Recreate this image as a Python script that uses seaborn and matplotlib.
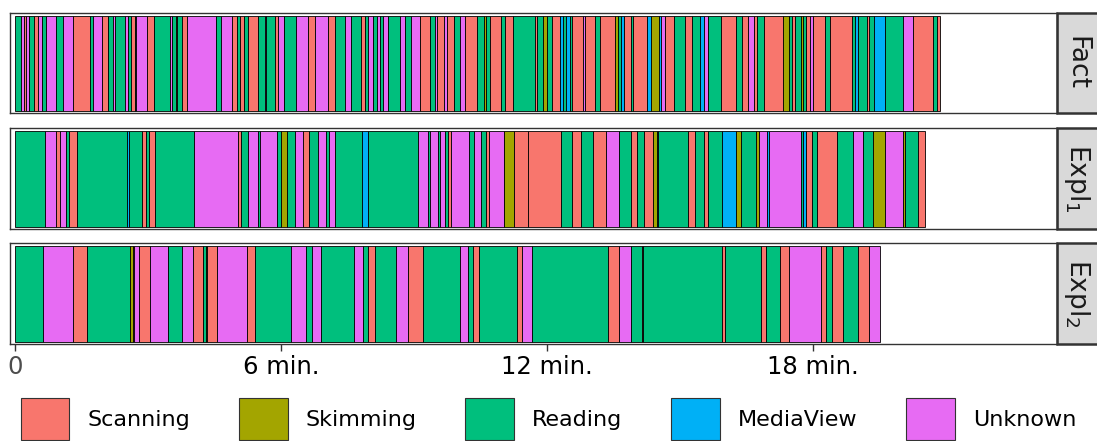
import numpy as np
import pandas as pd
import matplotlib
matplotlib.use("Agg")
import matplotlib.pyplot as plt
import seaborn as sns
from matplotlib.patches import Patch, Rectangle

# reading activities and their colours (ggplot default hues)
activities = ['Scanning', 'Skimming', 'Reading', 'MediaView', 'Unknown']
act_colors = ['#F8766D', '#A3A500', '#00BF7D', '#00B0F6', '#E76BF3']
act_codes = {'S': 'Scanning', 'K': 'Skimming', 'R': 'Reading', 'M': 'MediaView', 'U': 'Unknown'}

# (segment start in seconds, activity code); session end given separately
fact_segments = [
    (0, 'R'), (8, 'U'), (12, 'S'), (14, 'U'), (19, 'R'), (25, 'S'), (30, 'U'), (36, 'R'),
    (42, 'U'), (55, 'R'), (64, 'U'), (78, 'S'), (101, 'R'), (105, 'U'), (117, 'S'), (126, 'R'),
    (132, 'U'), (135, 'R'), (148, 'U'), (153, 'R'), (156, 'S'), (162, 'R'), (163, 'U'), (178, 'S'),
    (187, 'R'), (209, 'U'), (212, 'R'), (217, 'S'), (219, 'R'), (226, 'S'), (233, 'U'), (271, 'R'),
    (279, 'U'), (293, 'S'), (300, 'R'), (304, 'S'), (310, 'R'), (315, 'S'), (329, 'R'), (338, 'U'),
    (339, 'R'), (351, 'S'), (356, 'U'), (364, 'R'), (380, 'U'), (396, 'S'), (406, 'U'), (423, 'S'),
    (433, 'R'), (446, 'U'), (454, 'R'), (468, 'S'), (473, 'R'), (478, 'U'), (484, 'R'), (489, 'U'),
    (493, 'R'), (498, 'U'), (505, 'R'), (521, 'U'), (527, 'R'), (535, 'U'), (548, 'S'), (561, 'R'),
    (568, 'U'), (571, 'S'), (580, 'U'), (584, 'S'), (594, 'R'), (602, 'U'), (609, 'S'), (625, 'R'),
    (634, 'K'), (637, 'R'), (643, 'S'), (658, 'R'), (663, 'S'), (674, 'R'), (703, 'S'), (706, 'R'),
    (714, 'K'), (720, 'R'), (726, 'S'), (737, 'M'), (741, 'R'), (746, 'M'), (751, 'R'), (753, 'S'),
    (769, 'U'), (771, 'S'), (784, 'R'), (792, 'S'), (812, 'K'), (816, 'R'), (820, 'M'), (824, 'S'),
    (833, 'R'), (836, 'S'), (855, 'M'), (861, 'K'), (871, 'M'), (874, 'U'), (879, 'S'), (891, 'R'),
    (906, 'S'), (916, 'R'), (927, 'M'), (932, 'U'), (937, 'R'), (955, 'S'), (976, 'R'), (983, 'S'),
    (992, 'U'), (1000, 'S'), (1004, 'R'), (1014, 'S'), (1039, 'K'), (1047, 'R'), (1051, 'S'),
    (1056, 'R'), (1063, 'K'), (1066, 'R'), (1070, 'S'), (1076, 'U'), (1080, 'S'), (1096, 'R'),
    (1103, 'S'), (1133, 'R'), (1136, 'M'), (1140, 'R'), (1153, 'S'), (1156, 'R'), (1162, 'M'),
    (1177, 'R'), (1201, 'U'), (1215, 'S'), (1242, 'R'), (1247, 'S'),
]
fact_end = 1251

expl1_segments = [
    (0, 'R'), (40, 'U'), (55, 'S'), (60, 'U'), (68, 'R'), (72, 'S'), (83, 'R'), (151, 'M'),
    (154, 'R'), (171, 'S'), (177, 'R'), (181, 'S'), (189, 'R'), (242, 'U'), (301, 'S'), (305, 'R'),
    (315, 'U'), (329, 'R'), (331, 'U'), (354, 'R'), (360, 'K'), (368, 'R'), (378, 'U'), (390, 'S'),
    (398, 'R'), (409, 'U'), (421, 'R'), (424, 'U'), (433, 'R'), (469, 'M'), (477, 'R'), (545, 'U'),
    (558, 'R'), (561, 'U'), (572, 'R'), (575, 'U'), (581, 'R'), (586, 'S'), (590, 'U'), (614, 'R'),
    (621, 'U'), (630, 'R'), (637, 'S'), (641, 'U'), (662, 'K'), (675, 'S'), (694, 'S'), (738, 'R'),
    (754, 'S'), (766, 'R'), (782, 'S'), (799, 'U'), (817, 'R'), (834, 'S'), (841, 'R'), (851, 'S'),
    (863, 'K'), (868, 'M'), (870, 'R'), (910, 'S'), (920, 'R'), (932, 'S'), (938, 'R'), (956, 'M'),
    (975, 'K'), (982, 'R'), (1003, 'K'), (1007, 'U'), (1018, 'M'), (1020, 'U'), (1063, 'R'),
    (1066, 'M'), (1070, 'S'), (1078, 'R'), (1085, 'S'), (1112, 'R'), (1134, 'U'), (1147, 'R'),
    (1161, 'K'), (1177, 'U'), (1201, 'K'), (1204, 'R'), (1222, 'S'),
]
expl1_end = 1231

expl2_segments = [
    (0, 'R'), (37, 'U'), (78, 'S'), (97, 'R'), (155, 'K'), (159, 'S'), (161, 'U'), (168, 'S'),
    (182, 'U'), (206, 'R'), (226, 'U'), (240, 'S'), (254, 'R'), (258, 'K'), (260, 'S'), (273, 'U'),
    (314, 'S'), (324, 'R'), (373, 'U'), (393, 'R'), (402, 'U'), (414, 'R'), (459, 'U'), (470, 'R'),
    (478, 'S'), (487, 'R'), (515, 'U'), (531, 'S'), (552, 'R'), (602, 'U'), (613, 'R'), (620, 'S'),
    (627, 'R'), (679, 'S'), (686, 'U'), (700, 'R'), (802, 'S'), (817, 'U'), (834, 'R'), (848, 'S'),
    (850, 'R'), (956, 'S'), (960, 'R'), (1009, 'S'), (1016, 'R'), (1035, 'S'), (1047, 'U'),
    (1090, 'S'), (1097, 'R'), (1105, 'S'), (1121, 'R'), (1141, 'S'), (1156, 'U'),
]
expl2_end = 1171

panel_labels = ['Fact', r'Expl$_1$', r'Expl$_2$']
tick_secs = [0, 360, 720, 1080]
tick_labels = ['0', '6 min.', '12 min.', '18 min.']


def to_frame(segments, end):
    df = pd.DataFrame(segments, columns=['start', 'code'])
    df['stop'] = list(df.start[1:]) + [end]
    df['width'] = df.stop - df.start
    df['activity'] = df.code.map(act_codes)
    return df


sns.set_theme(style="white")
plt.rcParams['font.family'] = ['DejaVu Sans']
palette = dict(zip(activities, act_colors))

fig = plt.figure(figsize=(10.97, 4.41), dpi=100)

# panel boxes: [left, bottom, width, height] in figure fractions
boxes = [
    [0.0091, 0.7438, 0.9544, 0.2268],
    [0.0091, 0.4807, 0.9544, 0.2290],
    [0.0091, 0.2200, 0.9544, 0.2290],
]
data = [(fact_segments, fact_end), (expl1_segments, expl1_end), (expl2_segments, expl2_end)]

for i, ((segs, end), box) in enumerate(zip(data, boxes)):
    ax = fig.add_axes(box)
    df = to_frame(segs, end)
    ax.barh(0, df.width, left=df.start, height=1,
            color=[palette[a] for a in df.activity],
            edgecolor='black', linewidth=0.6)
    ax.set_xlim(-7.3, 1410)
    ax.set_ylim(-0.52, 0.53)
    ax.set_yticks([])
    for s in ax.spines.values():
        s.set_color('#333333')
        s.set_linewidth(1.0)
    # facet strip on the right
    ax.add_patch(Rectangle((1.0, 0), 0.045, 1, transform=ax.transAxes, clip_on=False,
                           facecolor='#D9D9D9', edgecolor='#333333', linewidth=1.8))
    ax.text(1.019, 0.5, panel_labels[i], rotation=270, va='center', ha='center',
            fontsize=19, color='#1A1A1A', transform=ax.transAxes)
    if i < 2:
        ax.set_xticks([])
    else:
        ax.set_xticks(tick_secs)
        ax.set_xticklabels(tick_labels, fontsize=17.5, color='black')
        ax.tick_params(axis='x', bottom=True, length=5, width=1, color='#333333', pad=3)
        ax.get_xticklabels()[0].set_color('#4D4D4D')

handles = [Patch(facecolor=c, edgecolor='#333333', linewidth=0.8) for c in act_colors]
leg = fig.legend(handles, activities, loc='center', bbox_to_anchor=(0.5, 0.05), ncol=5,
                 frameon=False, fontsize=16, handlelength=2.2, handleheight=2.55,
                 handletextpad=0.8, columnspacing=2.2, borderpad=0)
for t in leg.get_texts():
    t.set_color('black')

fig.savefig('out.png', dpi=100)
